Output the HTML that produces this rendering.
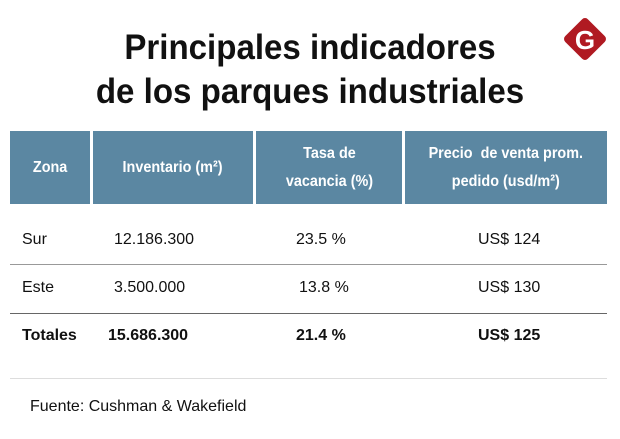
<!DOCTYPE html>
<html><head><meta charset="utf-8"><style>
body{margin:0;width:620px;height:439px;background:#fff;position:relative;overflow:hidden;font-family:"Liberation Sans",sans-serif;color:#111}
.a{position:absolute}
.t{font-family:"Liberation Sans",sans-serif;font-weight:bold;font-size:35px;text-align:center;width:620px;left:0;line-height:44px;color:#111;transform:scaleX(0.945);transform-origin:310px 0}
.hd{position:absolute;top:131px;height:73px;background:#5b87a2;color:#fff;font-family:"Liberation Sans",sans-serif;font-weight:bold;font-size:16px;display:flex;align-items:center;justify-content:center;text-align:center;line-height:28px}
.hd span{display:inline-block;transform:scaleX(0.9)}
.c{position:absolute;font-size:16px;text-align:center;transform:translateY(-50%)}
.b{font-weight:bold}
.ln{position:absolute;left:10px;width:597px;height:1px}
</style></head><body>
<div class="a t" style="top:26px">Principales indicadores</div>
<div class="a t" style="top:70px">de los parques industriales</div>
<svg class="a" style="left:558px;top:12px" width="54" height="54"><rect x="11" y="11" width="32" height="32" rx="4" fill="#b01a22" transform="rotate(45 27 27)"/><text x="27" y="37" text-anchor="middle" font-family="Liberation Sans" font-weight="bold" font-size="26" fill="#fff">G</text></svg>
<div class="hd" style="left:10px;width:80px"><span>Zona</span></div>
<div class="hd" style="left:93px;width:160px"><span>Inventario (m²)</span></div>
<div class="hd" style="left:256px;width:146px"><span>Tasa de<br>vacancia (%)</span></div>
<div class="hd" style="left:405px;width:202px"><span>Precio&nbsp; de venta prom.<br>pedido (usd/m²)</span></div>
<div class="c" style="left:22px;top:240px">Sur</div>
<div class="c" style="left:114px;top:240px">12.186.300</div>
<div class="c" style="left:296px;top:240px">23.5 %</div>
<div class="c" style="left:478px;top:240px">US$ 124</div>
<div class="ln" style="top:264px;background:#999"></div>
<div class="c" style="left:22px;top:288px">Este</div>
<div class="c" style="left:114px;top:288px">3.500.000</div>
<div class="c" style="left:299px;top:288px">13.8 %</div>
<div class="c" style="left:478px;top:288px">US$ 130</div>
<div class="ln" style="top:313px;background:#666"></div>
<div class="c b" style="left:22px;top:336px">Totales</div>
<div class="c b" style="left:108px;top:336px">15.686.300</div>
<div class="c b" style="left:296px;top:336px">21.4 %</div>
<div class="c b" style="left:478px;top:336px">US$ 125</div>
<div class="ln" style="top:378px;background:#ddd"></div>
<div class="c" style="left:30px;top:407px">Fuente: Cushman &amp; Wakefield</div>
</body></html>
